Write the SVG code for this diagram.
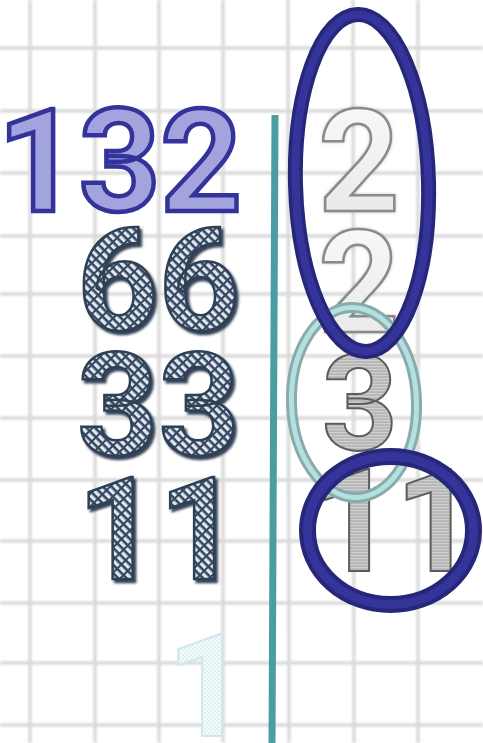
<svg xmlns="http://www.w3.org/2000/svg" width="483" height="743" viewBox="0 0 483 743">
<defs>
<style>
.grid line{stroke:#dadada;stroke-width:3.5}
</style>
<filter id="blur" x="-5%" y="-5%" width="110%" height="110%"><feGaussianBlur stdDeviation="0.8"/></filter>
<filter id="shadow" x="-10%" y="-10%" width="130%" height="130%"><feDropShadow dx="2.5" dy="3" stdDeviation="0.8" flood-color="#2c3a50" flood-opacity="0.95"/></filter>
<filter id="soft" x="-10%" y="-10%" width="130%" height="130%"><feDropShadow dx="0" dy="0" stdDeviation="1.5" flood-color="#999" flood-opacity="0.6"/></filter>
<pattern id="weave" patternUnits="userSpaceOnUse" width="6" height="9" patternTransform="rotate(-45)">
<rect width="6" height="9" fill="#34465e"/>
<rect x="0" y="0" width="3.4" height="7" fill="#dfe7f1"/>
</pattern>
<pattern id="hstripe" patternUnits="userSpaceOnUse" width="4" height="3">
<rect width="4" height="3" fill="#b6b6b6"/>
<rect y="0" width="4" height="1.2" fill="#cfcfcf"/>
</pattern>
<pattern id="check" patternUnits="userSpaceOnUse" width="4" height="4">
<rect width="4" height="4" fill="#f7fbfb"/>
<rect width="2" height="2" fill="#dff0f0"/>
<rect x="2" y="2" width="2" height="2" fill="#dff0f0"/>
</pattern>
<linearGradient id="lightg" x1="0" y1="0" x2="0" y2="1">
<stop offset="0" stop-color="#fbfbfb"/>
<stop offset="1" stop-color="#e6e6e6"/>
</linearGradient>
</defs>
<rect width="483" height="743" fill="#ffffff"/>
<g id="grid" filter="url(#blur)">
<g class="grid">
<line x1="30" y1="0" x2="30" y2="743"/><line x1="95" y1="0" x2="95" y2="743"/><line x1="159" y1="0" x2="159" y2="743"/><line x1="223" y1="0" x2="223" y2="743"/><line x1="288" y1="0" x2="289" y2="743"/><line x1="353" y1="0" x2="354" y2="743"/><line x1="418" y1="0" x2="418" y2="743"/>
<line x1="0" y1="48" x2="483" y2="48"/><line x1="0" y1="111" x2="483" y2="111"/><line x1="0" y1="173" x2="483" y2="173"/><line x1="0" y1="236" x2="483" y2="236"/><line x1="0" y1="294" x2="483" y2="294"/><line x1="0" y1="356" x2="483" y2="356"/><line x1="0" y1="418" x2="483" y2="418"/><line x1="0" y1="480" x2="483" y2="480"/><line x1="0" y1="541" x2="483" y2="541"/><line x1="0" y1="603" x2="483" y2="603"/><line x1="0" y1="663" x2="483" y2="663"/><line x1="0" y1="725" x2="483" y2="725"/>
</g>
</g>
<g id="connectors">
<line x1="275" y1="115" x2="272" y2="743" stroke="#4a9ea2" stroke-width="7"/>
</g>
<g font-family="Roboto, Liberation Sans, sans-serif" font-weight="700" font-size="142">
<g id="n132"><text x="242" y="211" text-anchor="end" fill="#a3a3dd" stroke="#333399" stroke-width="4.5">132</text></g>
<g id="n66" filter="url(#shadow)"><text x="240" y="330" text-anchor="end" fill="url(#weave)" stroke="#2f3f56" stroke-width="2.5">66</text></g>
<g id="n33" filter="url(#shadow)"><text x="240" y="455" text-anchor="end" fill="url(#weave)" stroke="#2f3f56" stroke-width="2.5">33</text></g>
<g id="n11" filter="url(#shadow)"><text x="240" y="579" text-anchor="end" fill="url(#weave)" stroke="#2f3f56" stroke-width="2.5">11</text></g>
<g id="n1"><text x="248" y="736" text-anchor="end" fill="url(#check)" stroke="#cde9e9" stroke-width="2">1</text></g>
<g id="f2a" filter="url(#soft)"><text x="359" y="211" text-anchor="middle" fill="url(#lightg)" stroke="#8a8a8a" stroke-width="2.5">2</text></g>
<g id="f2b" filter="url(#soft)"><text x="359" y="332" text-anchor="middle" fill="url(#lightg)" stroke="#8a8a8a" stroke-width="2.5">2</text></g>
<g id="f3"><text x="360" y="450" text-anchor="middle" font-size="133" fill="url(#hstripe)" stroke="#5c5c5c" stroke-width="2">3</text></g>
<g id="f11"><text x="395" y="571" text-anchor="middle" fill="url(#hstripe)" stroke="#5c5c5c" stroke-width="2">11</text></g>
</g>
<g id="ring-teal" fill="none">
<ellipse cx="354" cy="402.5" rx="62.5" ry="95" transform="rotate(-2 354 402.5)" stroke="#89abab" stroke-width="11"/>
<ellipse cx="354" cy="402.5" rx="62.5" ry="95" transform="rotate(-2 354 402.5)" stroke="#b3e0e0" stroke-width="5"/>
</g>
<g id="ring-top" fill="none">
<ellipse cx="362" cy="183" rx="66.5" ry="168.5" transform="rotate(-1.5 362 183)" stroke="#27277a" stroke-width="15"/>
<ellipse cx="362" cy="183" rx="66.5" ry="168.5" transform="rotate(-1.5 362 183)" stroke="#34349a" stroke-width="8"/>
</g>
<g id="ring-bottom" fill="none">
<ellipse cx="390.5" cy="530.5" rx="83" ry="74" stroke="#27277a" stroke-width="17"/>
<ellipse cx="390.5" cy="530.5" rx="83" ry="74" stroke="#34349a" stroke-width="9"/>
</g>
</svg>
